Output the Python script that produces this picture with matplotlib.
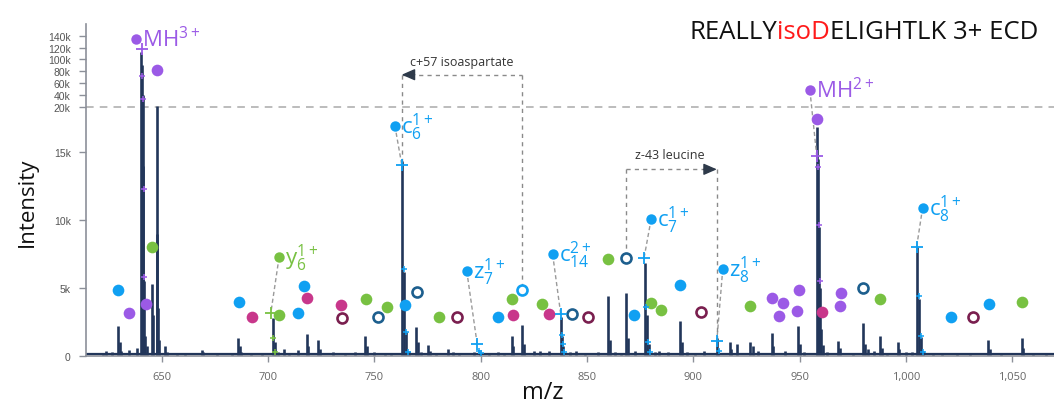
import numpy as np
import matplotlib
matplotlib.use("Agg")
import matplotlib.pyplot as plt

plt.rcParams['font.family'] = ['Open Sans', 'DejaVu Sans']
plt.rcParams['mathtext.default'] = 'regular'

# ---------------- data ----------------
peak_mz = [622.5, 624.0, 626.5, 629.6, 630.3, 631.0, 634.7, 638.5,
           640.3, 640.6, 641.0, 641.3, 641.7, 642.3, 643.0, 645.3, 645.7,
           647.6, 648.0, 648.4, 648.8, 651.6, 652.3, 657.0, 661.0, 668.8,
           669.5, 676.0, 683.0, 686.0, 686.6, 687.3, 692.0, 697.0, 702.2,
           703.2, 704.5, 707.5, 710.0, 714.3, 718.2, 719.0, 723.7, 724.5,
           730.6, 736.0, 741.0, 745.6, 746.4, 750.0, 755.0, 758.0, 763.1,
           764.1, 765.1, 766.1, 769.6, 770.5, 772.0, 775.4, 776.3, 779.0,
           784.8, 787.0, 790.0, 797.0, 799.7, 804.0, 808.0, 811.0, 814.6,
           815.3, 819.6, 820.4, 825.0, 828.0, 832.0, 837.7, 838.2, 838.7,
           842.0, 845.0, 849.0, 855.0, 860.1, 860.8, 863.0, 866.0, 868.4,
           869.1, 872.5, 877.3, 878.2, 879.1, 882.0, 884.0, 888.0, 893.8,
           894.6, 897.0, 901.0, 905.0, 911.1, 911.8, 917.3, 918.0, 920.5,
           926.7, 928.0, 930.5, 936.9, 937.6, 943.0, 949.4, 950.1, 952.0,
           958.0, 958.5, 959.0, 959.5, 960.0, 961.0, 963.0, 968.3, 969.0,
           975.0, 980.0, 980.7, 982.0, 985.0, 987.9, 988.6, 991.0, 996.2,
           997.0, 1000.0, 1003.0, 1005.4, 1006.3, 1007.2, 1008.2, 1013.0,
           1017.0, 1024.0, 1030.0, 1038.8, 1039.6, 1045.0, 1054.5, 1055.3,
           1060.0, 1066.0]
peak_int = [250, 350, 300, 2200, 1000, 400, 450, 600,
            113000, 90000, 40000, 14000, 5500, 1500, 700, 5300, 3000,
            20400, 9000, 3500, 1200, 700, 300, 200, 250, 450,
            300, 200, 250, 1350, 700, 300, 200, 250, 2800,
            1000, 300, 500, 250, 450, 1600, 700, 1200, 500,
            300, 200, 300, 1500, 700, 300, 250, 200, 14300,
            6200, 1800, 400, 2100, 1000, 300, 800, 400, 250,
            500, 300, 250, 300, 400, 250, 300, 250, 1500,
            700, 2300, 900, 400, 350, 400, 2900, 1500, 700,
            300, 350, 200, 300, 4400, 1200, 300, 250, 4600,
            1300, 400, 6800, 3000, 900, 300, 400, 300, 2600,
            1000, 300, 200, 350, 1300, 500, 1000, 500, 900,
            1000, 700, 400, 1700, 700, 400, 2200, 900, 300,
            17800, 14500, 9500, 5000, 2000, 800, 300, 1100, 600,
            200, 2400, 900, 500, 400, 1500, 600, 250, 1000,
            500, 300, 300, 8000, 4200, 1400, 400, 200,
            250, 200, 250, 1200, 500, 200, 1350, 600,
            200, 200]
baseline_level = 150

mz_range = (614.4, 1069.7)
x_ticks = [650, 700, 750, 800, 850, 900, 950, 1000, 1050]
x_ticklabels = ['650', '700', '750', '800', '850', '900', '950', '1,000', '1,050']
y_ticks = [0, 5000, 10000, 15000, 20000, 40000, 60000, 80000, 100000, 120000, 140000]
y_ticklabels = ['0', '5k', '10k', '15k', '20k', '40k', '60k', '80k', '100k', '120k', '140k']
break_level = 20000
# broken intensity axis: value knots and their share of the axis height
scale_values = [0, 15000, 20000, 140000, 160000]
scale_share = [0, 204.4, 249.7, 320.7, 332.5]

# matched-ion markers
blue_mz = [629.6, 686.4, 717.1, 714.3, 764.4, 808.0, 872.2, 893.8, 1021.1, 1039.0]
blue_int = [4840, 3990, 5170, 3130, 3740, 2890, 3010, 5210, 2840, 3820]
purple_mz = [634.6, 642.6, 647.8, 958.4, 936.9, 942.1, 940.5, 949.9, 949.0, 969.4, 969.0]
purple_int = [3130, 3790, 82500, 18600, 4290, 3870, 2970, 4840, 3300, 4600, 3700]
green_mz = [645.6, 705.3, 746.0, 755.8, 780.6, 814.6, 828.7, 860.1, 880.2, 884.9, 926.7, 988.0, 1054.5]
green_int = [8030, 3010, 4160, 3570, 2890, 4160, 3820, 7100, 3870, 3380, 3700, 4180, 3990]
magenta_mz = [692.3, 718.2, 734.2, 815.4, 832.2, 960.4]
magenta_int = [2840, 4290, 3740, 3010, 3080, 3210]
darkred_ring_mz = [734.9, 788.8, 850.7, 903.7, 1031.7]
darkred_ring_int = [2820, 2890, 2840, 3210, 2840]
darkblue_ring_mz = [751.9, 769.9, 842.9, 868.3, 980.0]
darkblue_ring_int = [2890, 4730, 3060, 7220, 5020]
c57_ring_mz = [819.6]
c57_ring_int = [4840]

# theoretical isotope positions (+)
major_plus_mz = [640.6, 701.3, 762.9, 798.4, 837.7, 876.9, 911.1, 958.1, 1005.1]
major_plus_int = [116800, 3130, 14070, 860, 3060, 7220, 1100, 14700, 8030]
major_plus_kind = ['purple', 'green', 'blue', 'blue', 'blue', 'blue', 'blue', 'purple', 'blue']
minor_plus_purple_mz = [640.9, 641.3, 641.6, 641.9, 958.6, 959.1, 959.6]
minor_plus_purple_int = [71900, 32300, 12300, 5780, 13900, 9600, 5500]
minor_plus_green_mz = [702.3, 703.3]
minor_plus_green_int = [1300, 270]
minor_plus_blue_mz = [763.9, 764.9, 765.9, 799.4, 800.4, 838.2, 838.7, 839.2,
                      877.9, 878.9, 879.9, 912.1, 1006.1, 1007.1, 1008.1]
minor_plus_blue_int = [6400, 1790, 320, 400, 200, 1540, 860, 270,
                       3630, 1060, 270, 400, 4400, 1470, 270]

# fragment labels: name, subscript, charge, colour, label-dot, matched peak
label_names = ['MH', 'y', 'c', 'z', 'c', 'c', 'z', 'MH', 'c']
label_subs = ['', '6', '6', '7', '14', '7', '8', '', '8']
label_charges = ['3+', '1+', '1+', '1+', '2+', '1+', '1+', '2+', '1+']
label_kind = ['purple', 'green', 'blue', 'blue', 'blue', 'blue', 'blue', 'purple', 'blue']
label_dot_mz = [637.9, 705.2, 759.7, 793.5, 833.9, 880.2, 913.9, 954.9, 1007.9]
label_dot_int = [134900, 7240, 17870, 6240, 7460, 10050, 6390, 47500, 10890]
label_peak_mz = [None, 701.3, 762.9, 798.4, 837.7, 876.9, 911.1, 958.1, 1005.1]
label_peak_int = [None, 3130, 14070, 860, 3060, 7220, 1100, 14700, 8030]

# mass-shift brackets
bracket_texts = ['c+57 isoaspartate', 'z-43 leucine']
bracket_left_mz = [762.9, 868.3]
bracket_right_mz = [819.6, 911.1]
bracket_level = [74100, 13720]
bracket_left_bottom = [14070, 7220]
bracket_right_bottom = [4840, 1100]
bracket_arrow_side = ['left', 'right']
bracket_text_mz = [791.1, 889.1]
bracket_text_int = [96600, 14800]

title_parts = ['REALLY', 'isoD', 'ELIGHTLK 3+ ECD']
title_colors = ['#111111', '#ff1a1a', '#111111']

# ---------------- styling ----------------
colors = {'blue': '#10a0f2', 'purple': '#9b5ae6', 'green': '#78c142',
          'magenta': '#c8378b', 'darkred': '#7a1f4f', 'darkblue': '#1d5f8e'}
navy = '#22365a'
grey = '#9a9a9a'

fig = plt.figure(figsize=(10.54, 4.06), dpi=100)
ax = fig.add_axes([86 / 1054, 49 / 406, 968 / 1054, 332 / 406])


def fwd(v):
    return np.interp(np.asarray(v, dtype=float), scale_values, scale_share)


def inv(p):
    return np.interp(np.asarray(p, dtype=float), scale_share, scale_values)


ax.set_yscale('function', functions=(fwd, inv))
ax.set_xlim(*mz_range)
ax.set_ylim(scale_values[0], scale_values[-1])

# spectrum
ax.plot(mz_range, [baseline_level, baseline_level], color=navy, lw=1.6, zorder=2)
ax.vlines(peak_mz, 0, peak_int, color=navy, lw=1.9, zorder=2)

# break line
ax.axhline(break_level, color='#aaaaaa', lw=1.1, dashes=(5, 4), zorder=1)

# connectors
for i in range(len(label_names)):
    if label_peak_mz[i] is not None:
        ax.plot([label_dot_mz[i], label_peak_mz[i]], [label_dot_int[i], label_peak_int[i]],
                color=grey, lw=1.0, dashes=(3, 2), zorder=3)

# brackets
for i in range(len(bracket_texts)):
    lv = bracket_level[i]
    ax.plot([bracket_left_mz[i], bracket_right_mz[i]], [lv, lv], color='#8a8a8a', lw=1.0,
            dashes=(3, 3), zorder=3)
    ax.plot([bracket_left_mz[i], bracket_left_mz[i]], [lv, bracket_left_bottom[i]],
            color='#8a8a8a', lw=1.0, dashes=(3, 3), zorder=3)
    ax.plot([bracket_right_mz[i], bracket_right_mz[i]], [lv, bracket_right_bottom[i]],
            color='#8a8a8a', lw=1.0, dashes=(3, 3), zorder=3)
    if bracket_arrow_side[i] == 'left':
        tip, off = bracket_left_mz[i], (13, 0)
    else:
        tip, off = bracket_right_mz[i], (-13, 0)
    ax.annotate('', xy=(tip, lv), xytext=off, textcoords='offset pixels',
                arrowprops=dict(arrowstyle='-|>,head_length=0.8,head_width=0.35',
                                color='#2e3a4a', lw=1, shrinkA=0, shrinkB=0), zorder=4)
    ax.text(bracket_text_mz[i], bracket_text_int[i], bracket_texts[i], ha='center',
            va='center', fontsize=9, color='#333333', zorder=5)

# markers
dot_ms = 8.4
ax.plot(blue_mz, blue_int, 'o', ms=dot_ms, color=colors['blue'], mew=0, zorder=4)
ax.plot(purple_mz, purple_int, 'o', ms=dot_ms, color=colors['purple'], mew=0, zorder=4)
ax.plot(green_mz, green_int, 'o', ms=dot_ms, color=colors['green'], mew=0, zorder=4)
ax.plot(magenta_mz, magenta_int, 'o', ms=dot_ms, color=colors['magenta'], mew=0, zorder=4)
ax.plot(darkred_ring_mz, darkred_ring_int, 'o', ms=7.2, mfc='white', mec=colors['darkred'],
        mew=1.9, zorder=4)
ax.plot(darkblue_ring_mz, darkblue_ring_int, 'o', ms=7.2, mfc='white', mec=colors['darkblue'],
        mew=1.9, zorder=4)
ax.plot(c57_ring_mz, c57_ring_int, 'o', ms=7.2, mfc='white', mec=colors['blue'],
        mew=1.9, zorder=4)

for m, v, k in zip(major_plus_mz, major_plus_int, major_plus_kind):
    ax.plot([m], [v], '+', ms=8.5, mew=1.3, color=colors[k], zorder=4)
ax.plot(minor_plus_purple_mz, minor_plus_purple_int, '+', ms=4.5, mew=1.1,
        color=colors['purple'], zorder=4)
ax.plot(minor_plus_green_mz, minor_plus_green_int, '+', ms=4.5, mew=1.1,
        color=colors['green'], zorder=4)
ax.plot(minor_plus_blue_mz, minor_plus_blue_int, '+', ms=4.5, mew=1.1,
        color=colors['blue'], zorder=4)

# labels
for i in range(len(label_names)):
    c = colors[label_kind[i]]
    ax.plot([label_dot_mz[i]], [label_dot_int[i]], 'o', ms=7.5, color=c, mew=0, zorder=5)
    if label_subs[i]:
        s = r'$\mathregular{%s_{%s}^{%s}}$' % (label_names[i], label_subs[i], label_charges[i])
    else:
        s = r'$\mathregular{%s^{%s}}$' % (label_names[i], label_charges[i])
    ax.annotate(s, xy=(label_dot_mz[i], label_dot_int[i]), xytext=(6, -7),
                textcoords='offset pixels', ha='left', va='baseline', fontsize=16,
                color=c, zorder=6)

# axes styling
for sp in ['top', 'right']:
    ax.spines[sp].set_visible(False)
for sp in ['left', 'bottom']:
    ax.spines[sp].set_color('#8c9099')
    ax.spines[sp].set_linewidth(1.2)
ax.set_xticks(x_ticks, x_ticklabels)
ax.set_yticks(y_ticks, y_ticklabels)
ax.minorticks_off()
ax.tick_params(axis='y', length=5, width=1, color='#8c9099', pad=6, labelsize=7.5,
               labelcolor='#555555')
ax.tick_params(axis='x', length=4, width=1, color='#8c9099', pad=7, labelsize=8,
               labelcolor='#666666')
for t in ax.get_yticklabels():
    t.set_fontfamily('Liberation Sans')

fig.text(27 / 1054, 1 - 202 / 406, 'Intensity', rotation=90, ha='center', va='center',
         fontsize=16, color='#111111')
fig.text(543 / 1054, 1 - 393 / 406, 'm/z', ha='center', va='center', fontsize=17,
         color='#111111')

# title
prev = fig.text(689 / 1054, 1 - 38.7 / 406, title_parts[0], fontsize=18.5,
                color=title_colors[0], va='baseline', ha='left')
for part, col in zip(title_parts[1:], title_colors[1:]):
    prev = ax.annotate(part, xy=(1, 0), xycoords=prev, va='bottom', ha='left',
                       fontsize=18.5, color=col)

fig.savefig('out.png', dpi=100)
